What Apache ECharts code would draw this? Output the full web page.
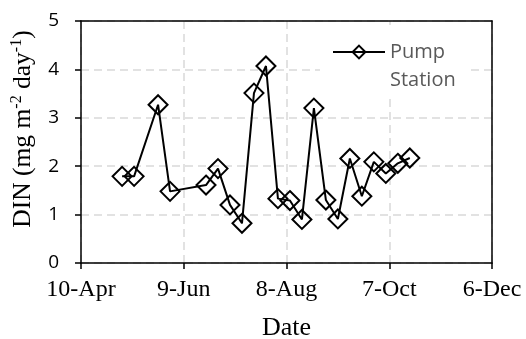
<!DOCTYPE html>
<html>
<head>
<meta charset="utf-8">
<script src="https://cdn.jsdelivr.net/npm/echarts@6/dist/echarts.min.js"></script>
<style>
  html, body { margin: 0; padding: 0; background: #fff; }
  #chart { width: 526px; height: 339px; }
</style>
</head>
<body>
<div id="chart"></div>
<script>
// Sampling dates (month-day) and DIN flux at the pump station
const sampleDates = ['05-04', '05-11', '05-25', '06-01', '06-22', '06-29', '07-06', '07-13',
  '07-20', '07-27', '08-03', '08-10', '08-17', '08-24', '08-31', '09-07', '09-14', '09-21',
  '09-28', '10-05', '10-12', '10-19'];
const dinValues = [1.79, 1.79, 3.27, 1.48, 1.61, 1.95, 1.20, 0.82, 3.51, 4.07, 1.33, 1.29,
  0.90, 3.20, 1.30, 0.91, 2.16, 1.38, 2.09, 1.85, 2.06, 2.17];
const xTickLabels = ['10-Apr', '9-Jun', '8-Aug', '7-Oct', '6-Dec'];
const seriesName = 'Pump Station';

// Days are counted from 10 April, the left end of the date axis
const DAY = 86400000;
const origin = Date.UTC(2001, 3, 10);
function dayOffset(md) {
  const [m, d] = md.split('-').map(Number);
  return Math.round((Date.UTC(2001, m - 1, d) - origin) / DAY);
}
const points = sampleDates.map((md, i) => [dayOffset(md), dinValues[i]]);

const serif = 'Liberation Serif';
const sans = 'Open Sans';
const frameLine = { color: '#000', width: 1.5 };
const dashed = { color: '#d9d9d9', width: 1.5, type: [8, 5] };

// Plain axis used only to draw the top and right sides of the frame
function frameAxis(extra) {
  return Object.assign({
    type: 'value',
    axisLine: { show: true, onZero: false, lineStyle: frameLine },
    axisTick: { show: false },
    axisLabel: { show: false },
    splitLine: { show: false }
  }, extra);
}

const chart = echarts.init(document.getElementById('chart'), null, { renderer: 'canvas' });
chart.setOption({
  animation: false,
  backgroundColor: '#fff',
  grid: { left: 81, right: 34, top: 21, bottom: 76, containLabel: false, outerBoundsMode: 'none' },
  xAxis: [{
    type: 'value',
    min: 0,
    max: 240,
    interval: 60,
    name: 'Date',
    nameLocation: 'middle',
    nameGap: 52,
    nameTextStyle: { fontFamily: serif, fontSize: 26, color: '#000' },
    axisLine: { onZero: false, lineStyle: frameLine },
    axisTick: { show: true, inside: false, length: 6, lineStyle: frameLine },
    axisLabel: {
      fontFamily: serif, fontSize: 24, color: '#000', margin: 15,
      formatter: v => xTickLabels[Math.round(v / 60)] || ''
    },
    splitLine: { show: true, lineStyle: dashed }
  }, frameAxis({ position: 'top', min: 0, max: 240 })],
  yAxis: [{
    type: 'value',
    min: 0,
    max: 5,
    interval: 1,
    name: 'DIN (mg m{sup|-2} day{sup|-1})',
    nameLocation: 'middle',
    nameGap: 43,
    nameTextStyle: {
      fontFamily: serif, fontSize: 25.5, color: '#000', lineHeight: 28,
      padding: [0, 0, 0, 26],
      rich: {
        sup: { fontFamily: serif, fontSize: 16, color: '#000', verticalAlign: 'top', lineHeight: 18 }
      }
    },
    axisLine: { onZero: false, lineStyle: frameLine },
    axisTick: { show: true, inside: false, length: 6, lineStyle: frameLine },
    axisLabel: { fontFamily: sans, fontSize: 19, color: '#000', margin: 22 },
    splitLine: { show: true, lineStyle: dashed }
  }, frameAxis({ position: 'right', min: 0, max: 5 })],
  legend: {
    show: true,
    left: 332,
    top: 10,
    padding: 0,
    itemWidth: 52,
    itemHeight: 16,
    itemGap: 0,
    data: [seriesName],
    // leading blank line keeps the marker level with the first word
    formatter: () => ' \nPump\nStation',
    textStyle: { fontFamily: sans, fontSize: 20, color: '#595959', lineHeight: 28 }
  },
  // White panel behind the legend, above the gridlines and below the data
  graphic: [{
    type: 'rect',
    z: 1,
    shape: { x: 320, y: 25, width: 150, height: 73 },
    style: { fill: '#fff' },
    silent: true
  }],
  series: [{
    name: seriesName,
    type: 'line',
    data: points,
    z: 3,
    symbol: 'diamond',
    symbolSize: 19,
    showAllSymbol: true,
    lineStyle: { color: '#000', width: 2 },
    itemStyle: { color: 'rgba(0,0,0,0)', borderColor: '#000', borderWidth: 2 }
  }]
});
</script>
</body>
</html>
